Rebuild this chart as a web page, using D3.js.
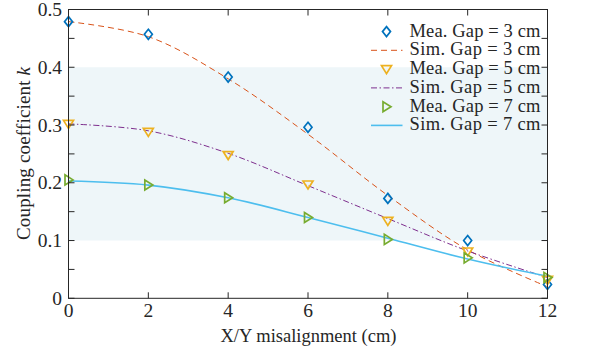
<!DOCTYPE html>
<html><head><meta charset="utf-8">
<script src="https://cdn.jsdelivr.net/npm/d3@7"></script>
<style>body{margin:0;background:#fff}svg{display:block}text{font-family:"Liberation Serif","Times New Roman",serif;fill:#262626}</style>
</head><body>
<svg id="c" width="597" height="348"></svg>
<script>
const xs = [0, 2, 4, 6, 8, 10, 12];
const mea3 = [0.479, 0.457, 0.383, 0.296, 0.173, 0.100, 0.024];
const sim3 = [0.479, 0.453, 0.380, 0.284, 0.178, 0.084, 0.020];
const mea5 = [0.302, 0.288, 0.248, 0.197, 0.134, 0.081, 0.032];
const sim5 = [0.302, 0.290, 0.251, 0.195, 0.138, 0.082, 0.036];
const mea7 = [0.205, 0.196, 0.174, 0.140, 0.102, 0.070, 0.036];
const sim7 = [0.203, 0.196, 0.174, 0.140, 0.104, 0.068, 0.038];
const xTicks = [0, 2, 4, 6, 8, 10, 12];
const yTicks = [0, 0.1, 0.2, 0.3, 0.4, 0.5];
const band = [0.1, 0.4];
const legendLabels = ["Mea. Gap = 3 cm","Sim. Gap = 3 cm","Mea. Gap = 5 cm","Sim. Gap = 5 cm","Mea. Gap = 7 cm","Sim. Gap = 7 cm"];

const svg = d3.select("#c");
const L = 68.5, R = 547.5, T = 9.5, B = 298.3;
const x = d3.scaleLinear().domain([0, 12]).range([L, R]);
const y = d3.scaleLinear().domain([0, 0.5]).range([B, T]);
const axisCol = "#262626";

svg.append("rect").attr("x", L).attr("width", R - L)
  .attr("y", y(band[1])).attr("height", y(band[0]) - y(band[1])).attr("fill", "#eef6f9");

const line = d3.line().x((d, i) => x(xs[i])).y(d => y(d)).curve(d3.curveCatmullRom.alpha(0.5));
const sims = [
  {v: sim3, c: "#D95319", dash: "6,4", w: 1},
  {v: sim5, c: "#7E2F8E", dash: "6,2.5,1.5,2.5", w: 1},
  {v: sim7, c: "#4DBEEE", dash: null, w: 1.6}
];
sims.forEach(s => {
  svg.append("path").attr("d", line(s.v)).attr("fill", "none").attr("stroke", s.c)
    .attr("stroke-width", s.w).attr("stroke-dasharray", s.dash);
});

function marker(g, type, cx, cy, c) {
  let p;
  if (type === "d") p = `M${cx},${cy-5}L${cx+4},${cy}L${cx},${cy+5}L${cx-4},${cy}Z`;
  else if (type === "v") p = `M${cx-5},${cy-3.5}L${cx+5},${cy-3.5}L${cx},${cy+4.5}Z`;
  else p = `M${cx-3.5},${cy-5}L${cx-3.5},${cy+5}L${cx+4.5},${cy}Z`;
  g.append("path").attr("d", p).attr("fill", "none").attr("stroke", c).attr("stroke-width", 1.7);
}
const meas = [
  {v: mea3, t: "d", c: "#0072BD"},
  {v: mea5, t: "v", c: "#EDB120"},
  {v: mea7, t: "r", c: "#77AC30"}
];
const mg = svg.append("g");
meas.forEach(m => m.v.forEach((d, i) => marker(mg, m.t, x(xs[i]), y(d), m.c)));

const ax = svg.append("g").attr("stroke", axisCol).attr("stroke-width", 1).attr("fill", "none");
ax.append("rect").attr("x", L).attr("y", T).attr("width", R - L).attr("height", B - T);
xTicks.forEach(t => {
  ax.append("line").attr("x1", x(t)).attr("x2", x(t)).attr("y1", B).attr("y2", B - 6);
  ax.append("line").attr("x1", x(t)).attr("x2", x(t)).attr("y1", T).attr("y2", T + 6);
});
d3.range(0, 0.5001, 0.05).forEach(t => {
  ax.append("line").attr("x1", L).attr("x2", L + 6).attr("y1", y(t)).attr("y2", y(t));
  ax.append("line").attr("x1", R).attr("x2", R - 6).attr("y1", y(t)).attr("y2", y(t));
});

xTicks.forEach(t => svg.append("text").attr("x", x(t)).attr("y", 317).attr("text-anchor", "middle")
  .attr("font-size", 19.5).text(t));
yTicks.forEach(t => svg.append("text").attr("x", 62).attr("y", y(t) + 6.6).attr("text-anchor", "end")
  .attr("font-size", 19.5).text(t === 0 ? "0" : d3.format(".1f")(t)));

svg.append("text").attr("x", 220.5).attr("y", 341.5).attr("font-size", 18.5)
  .attr("textLength", 176).attr("lengthAdjust", "spacing").text("X/Y misalignment (cm)");
const yl = svg.append("text").attr("transform", `translate(29.5,240) rotate(-90)`)
  .attr("font-size", 19).attr("textLength", 173).attr("lengthAdjust", "spacing");
yl.append("tspan").text("Coupling coefficient ");
yl.append("tspan").attr("font-style", "italic").text("k");

const lg = svg.append("g");
const ly = [31.6, 50.3, 69.1, 87.9, 106.7, 125.4];
legendLabels.forEach((lab, i) => {
  const yy = ly[i];
  if (i % 2 === 0) {
    marker(lg, meas[i / 2].t, 386.5, yy, meas[i / 2].c);
  } else {
    const s = sims[(i - 1) / 2];
    lg.append("line").attr("x1", 371).attr("x2", 402.5).attr("y1", yy).attr("y2", yy)
      .attr("stroke", s.c).attr("stroke-width", s.w).attr("stroke-dasharray", s.dash);
  }
  lg.append("text").attr("x", 409.5).attr("y", yy + 5).attr("font-size", 18.5)
    .attr("textLength", 131).attr("lengthAdjust", "spacing").text(lab);
});
</script>
</body></html>
